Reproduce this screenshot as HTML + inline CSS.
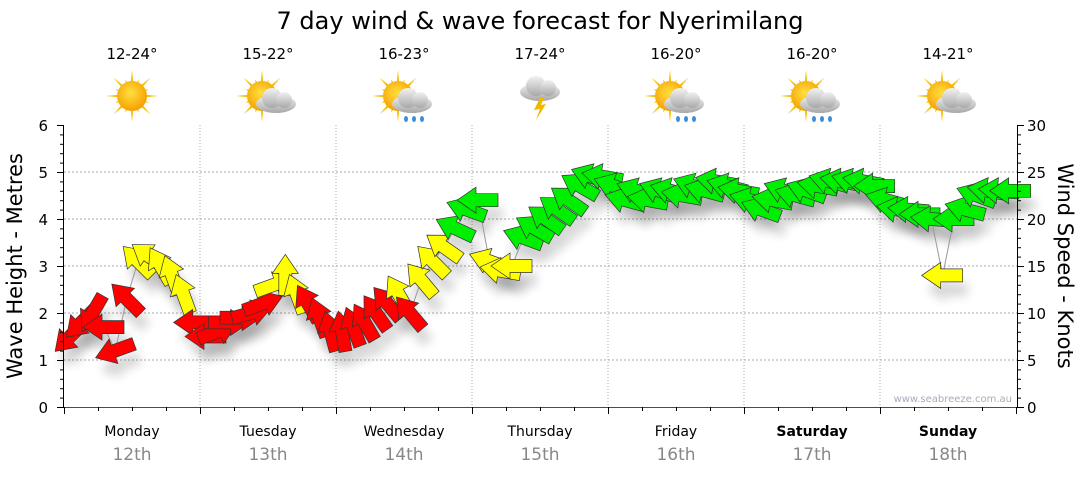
<!DOCTYPE html>
<html><head><meta charset="utf-8"><style>
body{margin:0;background:#fff;}
svg text{font-family:"DejaVu Sans","Liberation Sans",sans-serif;}
</style></head><body>
<svg width="1080" height="475" viewBox="0 0 1080 475" xmlns="http://www.w3.org/2000/svg">
<defs>
<filter id="sh" x="-50%" y="-50%" width="200%" height="200%"><feGaussianBlur stdDeviation="5"/></filter>
<radialGradient id="sun" cx="45%" cy="40%" r="60%"><stop offset="0" stop-color="#ffe040"/><stop offset="1" stop-color="#f5a000"/></radialGradient>
<linearGradient id="cloud" x1="0" y1="0" x2="0" y2="1"><stop offset="0" stop-color="#f2f2f2"/><stop offset="1" stop-color="#a8a8a8"/></linearGradient>
</defs>
<text x="540" y="29" font-size="24" text-anchor="middle">7 day wind &amp; wave forecast for Nyerimilang</text>
<g id="grid"></g>
<g id="icons"></g>
<g id="shadows"></g>
<g id="marks"></g>
<g id="axes"></g>
<text x="1012" y="402" font-size="10" fill="#aab" text-anchor="end" font-family="Liberation Sans">www.seabreeze.com.au</text>
<text transform="translate(22,266) rotate(-90)" font-size="21" text-anchor="middle">Wave Height - Metres</text>
<text transform="translate(1058,266) rotate(90)" font-size="21" text-anchor="middle">Wind Speed - Knots</text>
</svg>
<script>
const days=["Monday","Tuesday","Wednesday","Thursday","Friday","Saturday","Sunday"];
const dates=["12th","13th","14th","15th","16th","17th","18th"];
const temps=["12-24°","15-22°","16-23°","17-24°","16-20°","16-20°","14-21°"];
const icons=["sun","suncloud","sunrain","storm","sunrain","sunrain","suncloud"];
const leftTicks=[0,1,2,3,4,5,6];
const rightTicks=[0,5,10,15,20,25,30];
// wind speed knots every 2 hours
const speeds=[7.5,9,10,8.5,6,11.5,15.5,16,15,14,12,9,
7.5,8,9,9.5,10,11,13,14,12,11,9.5,8,
8,8.5,9,10,11,12,10,13.5,15.5,17,19,21,
22,15.5,14.5,15,18,19,20,21,22,23.5,24.5,24.5,
23.5,22,23,22,23,23,22.5,23.5,23,24,23.5,23,
22,21,22,23,22.5,23,23.5,24,24,24,24,23.5,
22,21,21,20.5,20,14,20,21,22.5,23,23,23];
// direction the arrow head points, degrees clockwise from screen-right
const dirs=[135,135,120,180,160,225,225,215,240,250,250,180,
180,340,0,0,345,340,340,270,250,240,250,255,
260,250,240,235,230,240,230,230,225,215,205,200,
180,200,190,180,200,210,215,215,215,210,200,190,
200,195,200,190,200,195,190,200,195,190,195,190,
195,200,190,200,195,200,190,195,190,195,190,180,
195,190,185,180,185,180,180,195,200,190,185,180];
const NS="http://www.w3.org/2000/svg";
const X0=64,DW=136,Y0=407,Y1=125;
function xs(i){return X0+ (i*2)/24*DW + 6;}
function yk(k){return Y0-(k/30)*(Y0-Y1);}
function ym(m){return Y0-(m/6)*(Y0-Y1);}
function mk(tag,at,par){const e=document.createElementNS(NS,tag);for(const k in at)e.setAttribute(k,at[k]);par.appendChild(e);return e;}
const grid=document.getElementById('grid'),axes=document.getElementById('axes'),marks=document.getElementById('marks'),shadows=document.getElementById('shadows'),ic=document.getElementById('icons');
for(const m of leftTicks){if(m>0&&m<6){const l=mk('line',{x1:64,x2:1017,y1:ym(m),y2:ym(m),stroke:'#aaa','stroke-dasharray':'2,2'},grid);}}
for(let d=1;d<7;d++){const l=mk('line',{x1:X0+d*DW,x2:X0+d*DW,y1:125,y2:407,stroke:'#aaa','stroke-dasharray':'1,2'},grid);}
mk('line',{x1:63.5,x2:63.5,y1:125,y2:407,stroke:'#000'},axes);
mk('line',{x1:1017.5,x2:1017.5,y1:125,y2:407,stroke:'#000'},axes);
mk('line',{x1:63,x2:1018,y1:407.5,y2:407.5,stroke:'#1f5a7a'},axes);
for(let k=0;k<=30;k++){const y=yk(k)+.5;mk('line',{x1:1017,x2:k%5==0?1024:1021,y1:y,y2:y,stroke:'#000'},axes);}
for(let m=0;m<=30;m++){const y=Y0-m*(Y0-Y1)/30+.5;mk('line',{x1:m%5==0?57:60,x2:64,y1:y,y2:y,stroke:'#000'},axes);}
for(const m of leftTicks){const t=mk('text',{x:48,y:ym(m)+6,'font-size':15,'text-anchor':'end'},axes);t.textContent=m;}
for(const k of rightTicks){const t=mk('text',{x:1027,y:yk(k)+6,'font-size':15},axes);t.textContent=k;}
for(let q=0;q<=28;q++){const x=X0+q*DW/4+.5;mk('line',{x1:x,x2:x,y1:407,y2:q%4==0?414:411,stroke:'#000'},axes);}
days.forEach((d,i)=>{const cx=X0+DW*i+DW/2;const t=mk('text',{x:cx,y:436,'font-size':14,'text-anchor':'middle','font-weight':i>=5?'bold':'normal'},axes);t.textContent=d;
const t2=mk('text',{x:cx,y:460,'font-size':17,'text-anchor':'middle',fill:'#888'},axes);t2.textContent=dates[i];
const t3=mk('text',{x:cx,y:59,'font-size':15,'text-anchor':'middle'},ic);t3.textContent=temps[i];
const g=mk('g',{transform:`translate(${cx},${i==3?92:96})`},ic);
const ty=icons[i];
if(ty!='storm'){const ox=ty=='sun'?0:-6;for(let r=0;r<16;r++){const a=r*Math.PI/8,L=r%2?18:26;mk('polygon',{points:`${ox+Math.cos(a-0.12)*12},${Math.sin(a-0.12)*12} ${ox+Math.cos(a)*L},${Math.sin(a)*L} ${ox+Math.cos(a+0.12)*12},${Math.sin(a+0.12)*12}`,fill:'#f5c000'},g);}
mk('circle',{cx:ox,cy:0,r:15,fill:'url(#sun)'},g);}
if(ty!='sun'){const cx2=ty=='storm'?0:8,cy2=ty=='storm'?-4:4;mk('ellipse',{cx:cx2,cy:cy2+4,rx:20,ry:9,fill:'url(#cloud)'},g);mk('circle',{cx:cx2-4,cy:cy2-2,r:10,fill:'url(#cloud)'},g);mk('circle',{cx:cx2+8,cy:cy2,r:8,fill:'url(#cloud)'},g);
if(ty=='storm'){mk('polygon',{points:'0,6 -6,18 0,17 -4,28 6,12 1,13 4,6',fill:'#f2b800'},g);}
if(ty=='sunrain'){for(const dx of [2,10,18])mk('ellipse',{cx:cx2+dx-8,cy:cy2+19,rx:2,ry:3,fill:'#3a8fd8'},g);}}
});
const pts=speeds.map((s,i)=>[xs(i),yk(s)]);
const pl=mk('polyline',{points:pts.map(p=>p.join(',')).join(' '),fill:'none',stroke:'#999','stroke-width':1},marks);

const shape="21,0 2,-13 2,-6.5 -20,-6.5 -20,6.5 2,6.5 2,13";
speeds.forEach((s,i)=>{const [x,y]=pts[i];const col=s<12?'#ff0000':s<18?'#ffff00':'#00ee00';
const sh=mk('polygon',{points:shape,fill:'#000',opacity:0.16,filter:'url(#sh)',transform:`translate(${x+5},${y+14}) rotate(${dirs[i]})`},shadows);

const a=mk('polygon',{points:shape,fill:col,stroke:'#333','stroke-width':0.7,transform:`translate(${x},${y}) rotate(${dirs[i]})`},marks);
});
</script>
</body></html>
